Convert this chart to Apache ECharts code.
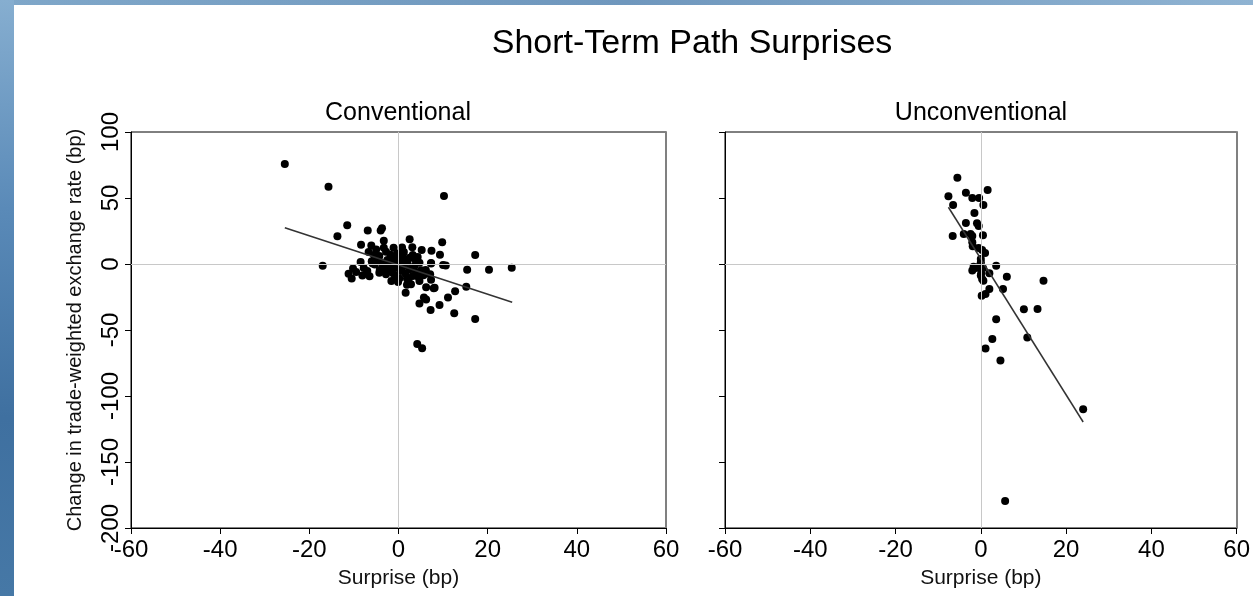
<!DOCTYPE html>
<html>
<head>
<meta charset="utf-8">
<script src="https://cdn.jsdelivr.net/npm/echarts@6/dist/echarts.min.js"></script>
<style>html,body{margin:0;padding:0;background:#fff;}#c{width:1253px;height:596px;}</style>
</head>
<body>
<div id="c"></div>
<script>
// ---- data ----
var chartTitle = 'Short-Term Path Surprises';
var panelTitles = ['Conventional', 'Unconventional'];
var xAxisName = 'Surprise (bp)';
var yAxisName = 'Change in trade-weighted exchange rate (bp)';
var xTicks = { min: -60, max: 60, interval: 20 };
var yTicks = { min: -200, max: 100, interval: 50 };

var conventionalPoints = [
  [-25.5,75.8],[-15.7,58.6],[10.2,51.5],[-11.5,29.3],[-13.7,21],[-6.9,25.3],[-4,25.3],[-3.7,27],
  [-8.4,14.6],[-3.3,17.7],[2.5,18.7],[9.8,16.4],[3.1,12.6],[5.2,10.6],[7.4,10.1],[9.3,7.1],
  [17.2,6.8],[-17,-1.3],[-8.5,1.5],[-10.2,-3.5],[-11.2,-7.3],[-10.5,-10.9],[-8.1,-8.8],[-6.5,-9.3],
  [-7,-5.3],[15.4,-4.3],[20.3,-4.3],[25.4,-2.8],[10,-0.8],[10.6,-1.2],[7.3,0.8],[6.1,-4.5],
  [7.3,-11.9],[5.6,-8.6],[6.2,-17.7],[7.9,-18.4],[1.6,-21.7],[-0.1,-13.6],[1.9,-15.7],[2.4,-15.2],
  [5.7,-25.3],[6.2,-26.8],[4.7,-30],[7.2,-34.8],[9.2,-31],[11.1,-25.3],[12.7,-20.7],[15.2,-17.2],
  [12.5,-37.4],[17.2,-41.7],[4.2,-60.6],[5.3,-63.9],
  [-6.7,9.1],[-5.5,6.8],[-4.3,6.1],[-3.3,12.4],[-2.8,9.3],[-1.1,12.4],[0.1,6.3],[-5.3,-0.3],
  [-5.8,0.3],[-4.4,2.3],[-4.2,-4.5],[-3.1,-4],[-2,1],[-1.4,4.8],[-0.5,3.5],[0.6,2.3],
  [1.1,-0.3],[-0.7,-1.8],[-1.8,-5.3],[-2.8,-7.8],[-4.3,-6.6],[-0.7,-9.1],[0.5,-5.3],[1.6,-7.3],
  [1.9,-10.9],[2.5,-4],[3.6,-1.5],[2.5,4.8],[3.2,6.8],[4.3,5.3],[4.7,1],[4,-6.6],
  [5.1,-4.8],[6.1,-5.3],[7.1,-7.8],[7.3,0.3],[2.8,-15.4],[4.7,-12.9],[8.1,-17.9],[-1.6,-12.9],
  [-3.5,-1.5],[-2.5,3],[-1,-3],[0,0],[1.5,3],[-3,0.5],[-1.5,-1],[0.8,-3],
  [2,1.5],[3,-3],[-2.2,-2.5],[-0.3,8],[1.2,9],[-1.8,7],[3.8,3],[-4.8,3.5],
  [-6,2],[-9.5,-6],[-7.8,-3],[-1.2,-7],[0.2,-11],[3.2,-9],[4.5,-10],[2.2,-12.5],
  [-0.4,1.5],[1,5],[-6.1,14],[-5,11],[0.8,12.5]
];
var unconventionalPoints = [
  [-5.5,65.4],[-7.6,51.3],[-6.5,44.7],[-3.5,54],[-2,50],[-0.4,50],[1.6,56],[0.6,44.7],
  [-1.5,38.6],[-3.5,31],[-0.9,30.8],[-0.5,28.8],[-6.6,21.2],[-4,22.7],[-2.4,22.7],[-2,21.2],
  [0.5,21.7],[-2,16.4],[-1.9,13.4],[-0.5,12.1],[0.3,10.6],[1,8.3],[0,3.8],[0,1.3],
  [-1.7,-2],[-2,-5],[-1.2,-3],[-0.5,-2],[0.5,-3],[0.1,-7],[2,-7],[3.6,-1.3],
  [0.3,-11.4],[0.6,-12.6],[0,-8.8],[6.1,-9.6],[14.7,-12.6],[5.2,-18.9],[2,-18.9],[1.1,-22.7],
  [0.2,-24],[10.1,-34.3],[13.3,-34.1],[3.6,-41.9],[10.9,-55.6],[2.7,-56.8],[1.1,-64.1],[4.6,-73.2],
  [24,-110.1],[5.7,-179.5]
];
var conventionalFit = [[-25.5,27.5],[25.5,-29]];
var unconventionalFit = [[-7.6,43],[24,-119.7]];

// ---- chart ----
var FONT = "'Liberation Sans', Arial, Helvetica, sans-serif";
var chart = echarts.init(document.getElementById('c'), null, { renderer: 'canvas' });

function xAxisCfg(gridIndex) {
  return {
    type: 'value', gridIndex: gridIndex, min: xTicks.min, max: xTicks.max, interval: xTicks.interval,
    name: xAxisName, nameLocation: 'middle', nameGap: 40,
    nameTextStyle: { color: '#111', fontSize: 21, fontFamily: FONT },
    axisLine: { show: true, onZero: false, lineStyle: { color: '#000', width: 1 } },
    axisTick: { show: true, length: 6, lineStyle: { color: '#000' } },
    axisLabel: { color: '#000', fontSize: 24, fontFamily: FONT, margin: 10 },
    splitLine: { show: false }
  };
}
function yAxisCfg(gridIndex, withLabels) {
  return {
    type: 'value', gridIndex: gridIndex, min: yTicks.min, max: yTicks.max, interval: yTicks.interval,
    name: withLabels ? yAxisName : '', nameLocation: 'middle', nameGap: 46, nameRotate: 90,
    nameTextStyle: { color: '#111', fontSize: 20, fontFamily: FONT },
    axisLine: { show: true, onZero: false, lineStyle: { color: '#000', width: 1 } },
    axisTick: { show: true, length: 6, lineStyle: { color: '#000' } },
    axisLabel: { show: withLabels, rotate: 90, color: '#000', fontSize: 24, fontFamily: FONT, margin: 8 },
    splitLine: { show: false }
  };
}
function rightBorderAxis(gridIndex) {
  return {
    type: 'value', gridIndex: gridIndex, position: 'right', min: yTicks.min, max: yTicks.max,
    axisLine: { show: true, onZero: false, lineStyle: { color: '#808080', width: 2 } },
    axisTick: { show: false }, axisLabel: { show: false }, splitLine: { show: false }
  };
}
function zeroLines() {
  return {
    silent: true, symbol: ['none', 'none'], animation: false,
    label: { show: false },
    lineStyle: { color: '#c8c8c8', width: 1, type: 'solid' },
    data: [{ xAxis: 0 }, { yAxis: 0 }]
  };
}
function scatter(data, xi, yi) {
  return {
    type: 'scatter', xAxisIndex: xi, yAxisIndex: yi, data: data,
    symbol: 'circle', symbolSize: 8, itemStyle: { color: '#000', opacity: 1 },
    markLine: zeroLines(), z: 3, animation: false
  };
}
function fit(data, xi, yi) {
  return {
    type: 'line', xAxisIndex: xi, yAxisIndex: yi, data: data, showSymbol: false, symbol: 'none',
    lineStyle: { color: '#333', width: 1.5 }, z: 4, animation: false, silent: true
  };
}

chart.setOption({
  backgroundColor: '#ffffff',
  animation: false,
  graphic: [
    { type: 'rect', left: 0, top: 0, shape: { width: 1253, height: 5 }, z: -10,
      style: { fill: new echarts.graphic.LinearGradient(0, 0, 1, 0, [
        { offset: 0, color: '#7fa7c9' }, { offset: 0.5, color: '#6f97bd' }, { offset: 1, color: '#8fb3d2' }]) } },
    { type: 'rect', left: 0, top: 0, shape: { width: 14, height: 596 }, z: -10,
      style: { fill: new echarts.graphic.LinearGradient(0, 0, 0, 1, [
        { offset: 0, color: '#86aed0' }, { offset: 0.35, color: '#5a8ab8' }, { offset: 0.7, color: '#3f70a0' }, { offset: 1, color: '#4678a6' }]) } }
  ],
  title: [
    { text: chartTitle, left: 692, top: 27, textAlign: 'center', padding: 0,
      textStyle: { color: '#000', fontSize: 34, fontWeight: 'normal', fontFamily: FONT } },
    { text: panelTitles[0], left: 398, top: 101, textAlign: 'center', padding: 0,
      textStyle: { color: '#000', fontSize: 25, fontWeight: 'normal', fontFamily: FONT } },
    { text: panelTitles[1], left: 981, top: 101, textAlign: 'center', padding: 0,
      textStyle: { color: '#000', fontSize: 25, fontWeight: 'normal', fontFamily: FONT } }
  ],
  grid: [
    { left: 131, top: 132, width: 535, height: 396, show: true, borderColor: '#000', borderWidth: 1, backgroundColor: 'transparent' },
    { left: 725, top: 132, width: 513, height: 396, show: true, borderColor: '#000', borderWidth: 1, backgroundColor: 'transparent' }
  ],
  xAxis: [ xAxisCfg(0), xAxisCfg(1) ],
  yAxis: [ yAxisCfg(0, true), yAxisCfg(1, false), rightBorderAxis(0), rightBorderAxis(1) ],
  series: [
    scatter(conventionalPoints, 0, 0),
    fit(conventionalFit, 0, 0),
    scatter(unconventionalPoints, 1, 1),
    fit(unconventionalFit, 1, 1)
  ]
});
</script>
</body>
</html>
